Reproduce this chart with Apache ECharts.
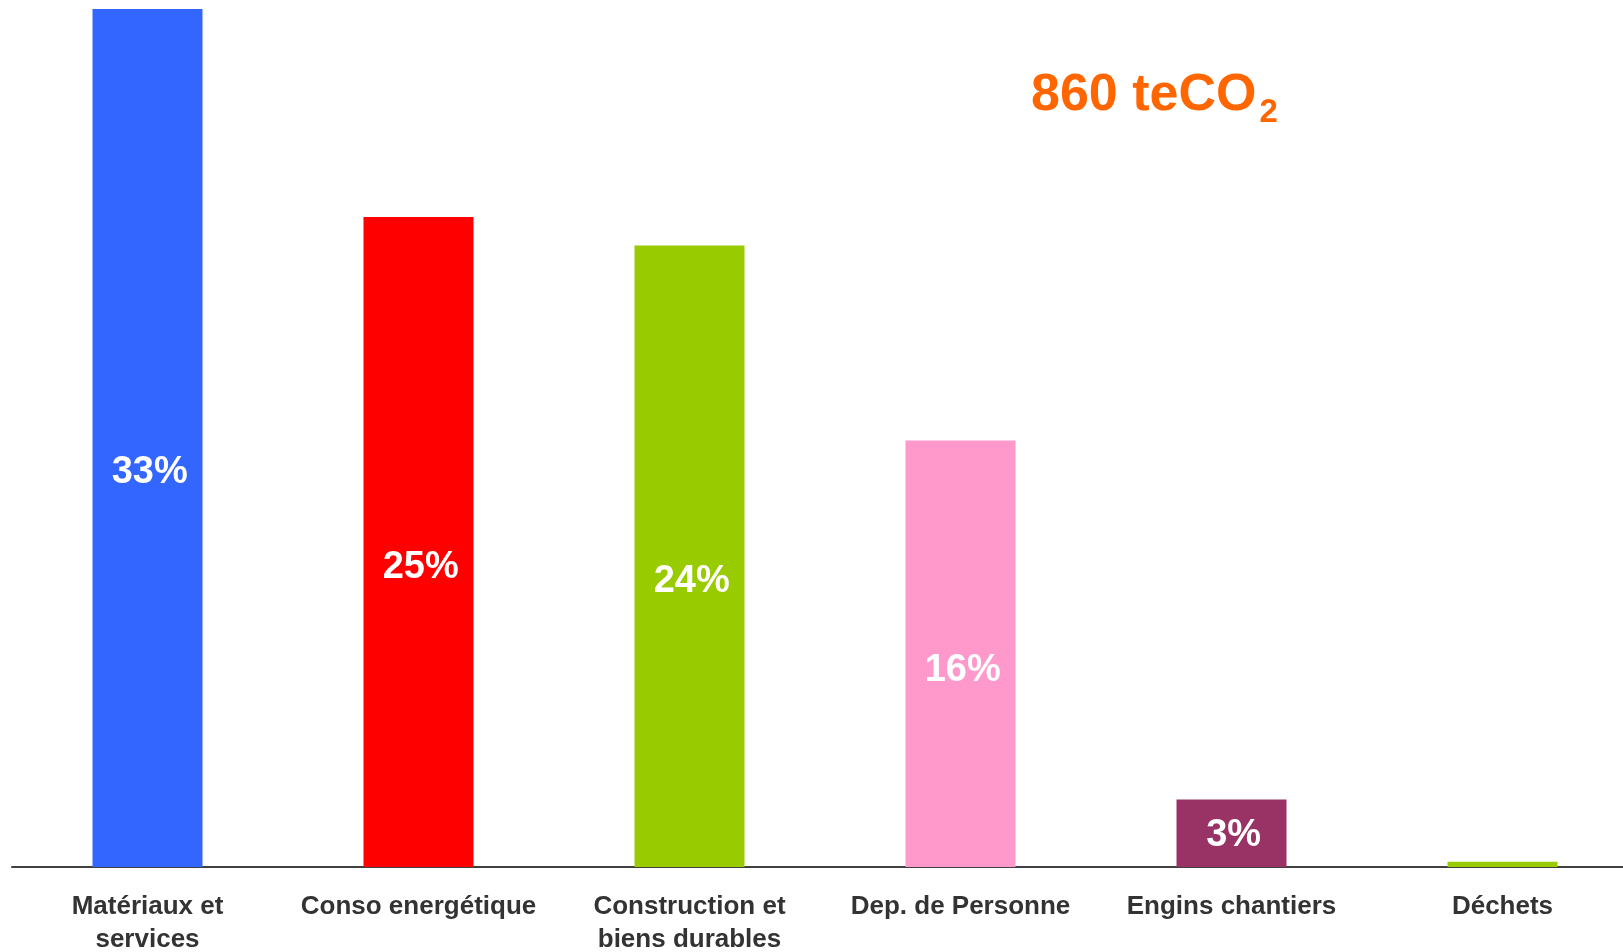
<!DOCTYPE html>
<html>
<head>
<meta charset="utf-8">
<script src="https://cdn.jsdelivr.net/npm/echarts@6/dist/echarts.min.js"></script>
<style>
  html, body { margin: 0; padding: 0; background: #fff; }
  #chart { width: 1623px; height: 952px; }
</style>
</head>
<body>
<div id="chart"></div>
<script>
const categories = [
  "Matériaux et\nservices",
  "Conso energétique",
  "Construction et\nbiens durables",
  "Dep. de Personne",
  "Engins chantiers",
  "Déchets",
];
// share of total emissions, in %
const shares = [33.0, 25.0, 23.9, 16.4, 2.6, 0.2];
const shareLabels = ["33%", "25%", "24%", "16%", "3%", ""];
const barColors = ["#3366FF", "#FF0000", "#99CC00", "#FF99CC", "#993366", "#99CC00"];
const total = "860 teCO";

const chart = echarts.init(document.getElementById("chart"));

const option = {
  animation: false,
  textStyle: { fontFamily: "Liberation Sans, Arial, sans-serif" },
  title: {
    text: "{a|" + total + "}{b|2}",
    left: 1026,
    top: 59,
    textStyle: {
      rich: {
        a: { fontSize: 52, fontWeight: "bold", color: "#FF6600", lineHeight: 58, verticalAlign: "bottom" },
        b: { fontSize: 33, fontWeight: "bold", color: "#FF6600", lineHeight: 33, padding: [0, 0, -7, 3], verticalAlign: "bottom" },
      },
    },
  },
  grid: { left: 12, top: 9, width: 1626, bottom: 85, containLabel: false, outerBoundsMode: "none" },
  xAxis: {
    type: "category",
    data: categories,
    axisTick: { show: false },
    axisLine: { lineStyle: { color: "#404040", width: 2 } },
    axisLabel: {
      interval: 0,
      margin: 23,
      fontSize: 26,
      fontWeight: "bold",
      color: "#333333",
      lineHeight: 33,
    },
  },
  yAxis: {
    type: "value",
    min: 0,
    max: 33,
    show: false,
    splitLine: { show: false },
  },
  series: [
    {
      type: "bar",
      barWidth: 110,
      data: shares.map((v, i) => ({ value: v, itemStyle: { color: barColors[i] } })),
      label: {
        show: true,
        position: ["52%", "54%"],
        align: "center",
        verticalAlign: "middle",
        color: "#FFFFFF",
        fontSize: 38,
        fontWeight: "bold",
        formatter: (p) => shareLabels[p.dataIndex],
      },
    },
  ],
};

chart.setOption(option);
</script>
</body>
</html>
